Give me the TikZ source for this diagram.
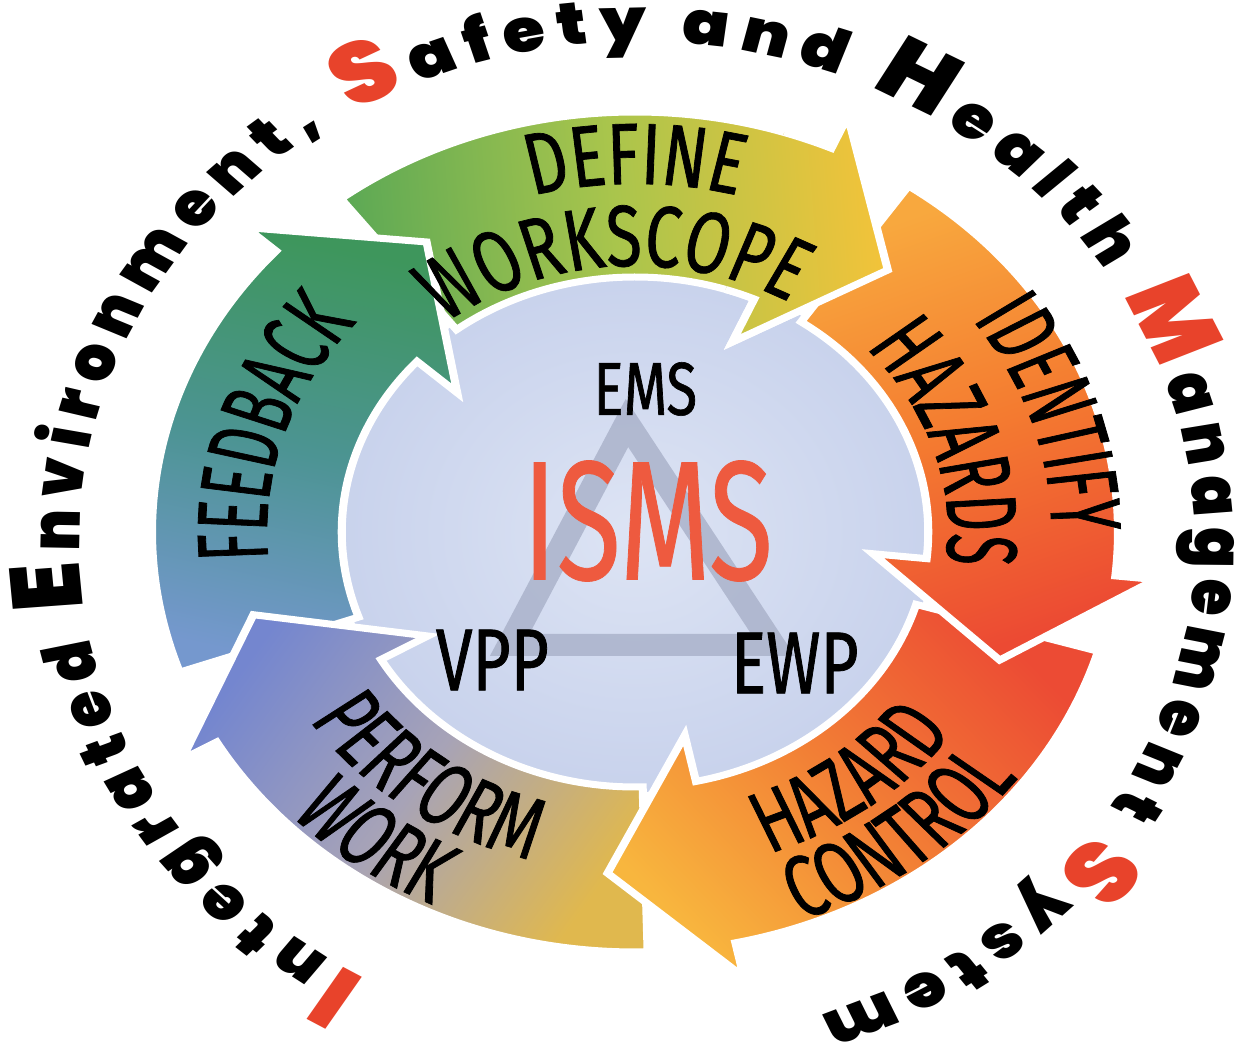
\documentclass[tikz,border=0pt]{standalone}
\usepackage{fontspec}
\usetikzlibrary{decorations.text}
\newfontfamily\condfont[FakeStretch=0.65, FakeBold=0.8]{Fira Sans}
\newfontfamily\ismsfont[FakeStretch=0.6, FakeBold=0.4]{Fira Sans}
\newfontfamily\heavyfont{Poppins Black}
\definecolor{redL}{HTML}{E8432B}
\definecolor{ismsred}{HTML}{EE5A3F}
\definecolor{discIn}{HTML}{DDE4F4}
\definecolor{discOut}{HTML}{C8D2EC}
\definecolor{triC}{HTML}{A8B0C8}
\definecolor{defA}{HTML}{5DA955}\definecolor{defM}{HTML}{A9C54C}\definecolor{defB}{HTML}{F2C33A}
\definecolor{idA}{HTML}{F8A83E}\definecolor{idM}{HTML}{F47B30}\definecolor{idB}{HTML}{EC4A33}
\definecolor{hcA}{HTML}{EC4B34}\definecolor{hcM}{HTML}{F27E35}\definecolor{hcB}{HTML}{F8B63E}
\definecolor{pwA}{HTML}{E0B84E}\definecolor{pwM}{HTML}{A7A3B7}\definecolor{pwB}{HTML}{7486CF}
\definecolor{fbA}{HTML}{7598CE}\definecolor{fbM}{HTML}{4C9493}\definecolor{fbB}{HTML}{3E965C}
\newcommand\lblfont{\condfont\fontsize{49.5pt}{52pt}\selectfont}
\newcommand\outfont{\heavyfont\fontsize{34pt}{36pt}\selectfont}
\newcommand\capfont{\heavyfont\fontsize{49pt}{51pt}\selectfont}
\tikzset{
  arrowpath/.style={insert path={({#1+61.5}:255) -- ({#1+61.5}:420)
     arc[start angle={#1+61.5}, end angle={#1}, radius=420]
     -- ({#1}:455) -- ({#1-16}:342) -- ({#1}:208) -- ({#1}:255)
     arc[start angle={#1}, end angle={#1+61.5}, radius=255] -- cycle}},
  arrowbase/.style={draw=white, line width=0.14cm, line join=miter},
  arrDefine/.style={arrowbase, top color=defB, bottom color=defA, middle color=defM, shading angle=-86},
  arrIdent/.style={arrowbase, top color=idB, bottom color=idA, middle color=idM, shading angle=-158},
  arrHazard/.style={arrowbase, top color=hcB, bottom color=hcA, middle color=hcM, shading angle=130},
  arrPerform/.style={arrowbase, top color=pwB, bottom color=pwA, middle color=pwM, shading angle=58},
  arrFeed/.style={arrowbase, top color=fbB, bottom color=fbA, middle color=fbM, shading angle=-14},
  lbl/.style={decorate, decoration={text along path, text={|\lblfont|#1}, text align=center}},
  tri/.style={draw=triC, line width=0.44cm, line join=miter, opacity=0.8},
  centertext/.style={inner sep=0pt, text=black, font=\condfont\fontsize{42.7pt}{44pt}\selectfont}
}
\begin{document}
\begin{tikzpicture}[x=0.02cm,y=0.02cm]
\useasboundingbox (-635,-528) rectangle (620,532);
\fill[white] (-635,-528) rectangle (620,532);
\begin{scope}[transform canvas={xscale=1.15}]
  % central disc
  \shade[inner color=discIn, outer color=discOut] (0,0) circle[radius=260];
  % arrows (order so every head lies over the next tail)
  \path[arrDefine, arrowpath=66];
  \path[arrFeed, arrowpath=138];
  \path[arrPerform, arrowpath=-150];
  \path[arrHazard, arrowpath=-78];
  \path[arrIdent, arrowpath=-6];
  \begin{scope}
    \clip (0,0) -- (72:700) arc[start angle=72, end angle=40, radius=700] -- cycle;
    \path[arrDefine, arrowpath=66];
  \end{scope}
  % triangle
  \coordinate (tA) at (-7,109);
  \coordinate (tB) at (-109,-113);
  \coordinate (tC) at (120,-113);
  \draw[tri] (tA) -- (tB) -- (tC) -- cycle;
  % centre texts
  \node[centertext] (ems) at (9,143) {EMS};
  \node[inner sep=0pt, text=ismsred, font=\ismsfont\fontsize{96.7pt}{98pt}\selectfont] (isms) at (11,11) {ISMS};
  \node[centertext, font=\condfont\fontsize{50pt}{52pt}\selectfont] (vpp) at (-124,-128) {VPP};
  \node[centertext, font=\condfont\fontsize{50pt}{52pt}\selectfont] (ewp) at (139,-131) {EWP};
  % arrow labels
  \path[lbl=DEFINE] (150:348) arc[start angle=150, end angle=30, radius=348];
  \path[lbl=WORKSCOPE] (154:266) arc[start angle=154, end angle=34, radius=266];
  \path[lbl=IDENTIFY] (78:362) arc[start angle=78, end angle=-42, radius=362];
  \path[lbl=HAZARDS] (78:272) arc[start angle=78, end angle=-42, radius=272];
  \path[lbl=HAZARD] (-113:342) arc[start angle=-113, end angle=7, radius=342];
  \path[lbl=CONTROL] (-113:414) arc[start angle=-113, end angle=7, radius=414];
  \path[lbl=PERFORM] (-186:340) arc[start angle=-186, end angle=-66, radius=340];
  \path[lbl=WORK] (-186:412) arc[start angle=-186, end angle=-66, radius=412];
  \path[lbl=FEEDBACK] (222:320) arc[start angle=222, end angle=102, radius=320];
  % outer title
  \begin{scope}[shift={(2,-10)}]
  \path[decorate, decoration={text along path, text align={fit to path},
     text={|\capfont\color{redL}|I|\outfont|ntegrated |\capfont|E|\outfont|nvironment, |\capfont\color{redL}|S|\outfont|afety and |\capfont|H|\outfont|ealth |\capfont\color{redL}|M|\outfont|anagement |\capfont\color{redL}|S|\outfont|ystem}}]
     (-119:485 and 500) arc[start angle=-119, end angle=-431, x radius=485, y radius=500];
  \end{scope}
\end{scope}
\end{tikzpicture}
\end{document}
